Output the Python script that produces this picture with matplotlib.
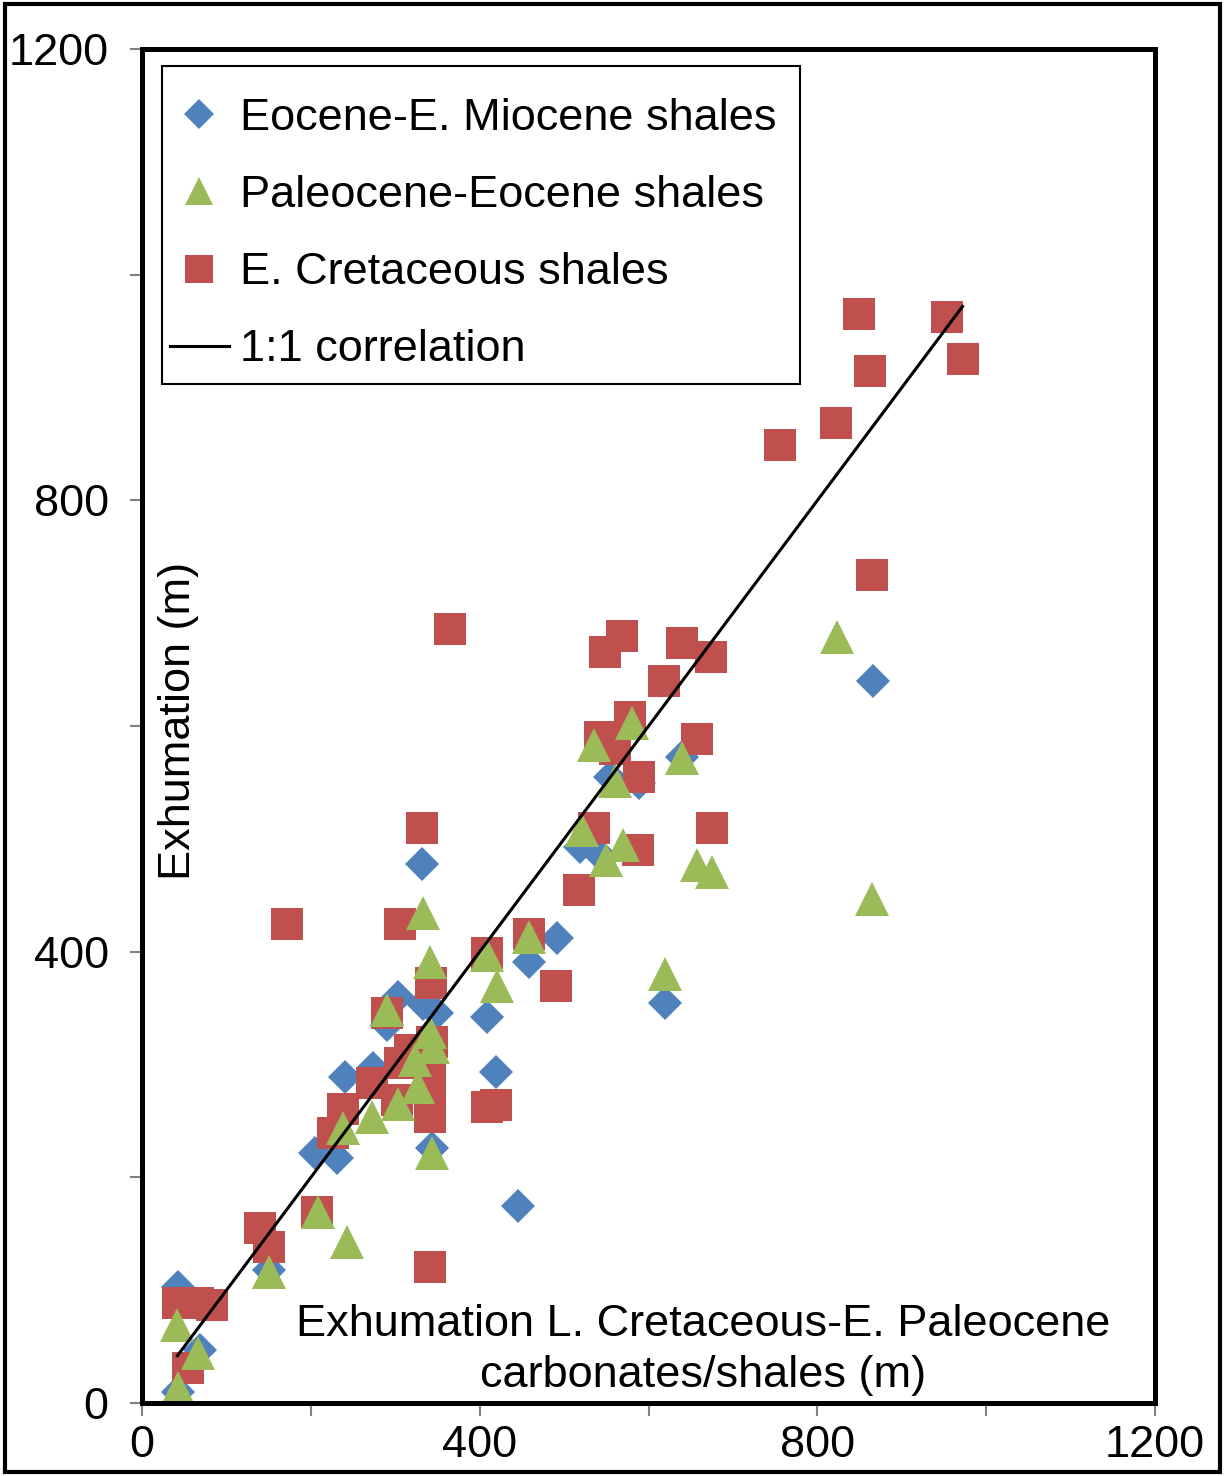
import numpy as np
import matplotlib.pyplot as plt
from matplotlib.patches import Rectangle

plt.rcParams['font.family'] = ['Liberation Sans', 'DejaVu Sans']

# -------------------------------
# Data (exhumation, m)
# -------------------------------
eoc_x = [43, 69, 43, 150, 205, 231, 240, 274, 290, 303, 333, 349, 332, 344,
         409, 419, 445, 458, 492, 519, 543, 554, 589, 640, 620, 866]
eoc_y = [103, 47, 10, 118, 222, 217, 289, 297, 335, 360, 354, 346, 478, 226,
         342, 293, 175, 391, 412, 493, 486, 555, 550, 573, 355, 640]

pal_x = [43, 41, 66, 150, 209, 243, 238, 272, 303, 327, 323, 345, 341, 344,
         290, 341, 333, 409, 420, 458, 620, 521, 550, 570, 535, 580, 560, 640,
         657, 675, 823, 865]
pal_y = [13, 69, 44, 116, 169, 143, 244, 254, 265, 280, 304, 316, 329, 222,
         348, 391, 434, 397, 370, 413, 380, 508, 481, 495, 583, 603, 551, 572,
         477, 471, 679, 447]

cre_x = [43, 66, 83, 55, 140, 150, 207, 341, 226, 238, 272, 306, 302, 341,
         341, 317, 341, 343, 290, 342, 172, 306, 332, 365, 409, 458, 490, 409,
         419, 518, 535, 588, 589, 543, 560, 578, 548, 569, 618, 640, 674, 657,
         675, 756, 822, 849, 954, 973, 862, 865]
cre_y = [89, 89, 87, 31, 155, 138, 169, 121, 239, 261, 284, 301, 269, 275,
         254, 313, 298, 320, 346, 372, 425, 425, 510, 686, 399, 416, 370, 262,
         264, 455, 510, 490, 555, 590, 580, 608, 666, 680, 640, 674, 661, 589,
         510, 849, 869, 965, 963, 925, 915, 734]

line_x = [42, 972]
line_y = [42, 972]

FS = 32.5

# -------------------------------
# Figure
# -------------------------------
fig = plt.figure(figsize=(12.25, 14.76), dpi=100)
ax = fig.add_axes([0.1159, 0.0494, 0.827, 0.9173])

ax.plot(eoc_x, eoc_y, linestyle='none', marker='D', markersize=17.5,
        color='#4F81BD', markeredgewidth=0, label='Eocene-E. Miocene shales',
        zorder=3)
ax.plot(cre_x, cre_y, linestyle='none', marker='s', markersize=23.5,
        color='#C0504D', markeredgewidth=0, label='E. Cretaceous shales',
        zorder=4)
ax.plot(pal_x, pal_y, linestyle='none', marker='^', markersize=24,
        color='#9BBB59', markeredgewidth=0, label='Paleocene-Eocene shales',
        zorder=5)
ax.plot(line_x, line_y, color='black', linewidth=2.2, label='1:1 correlation',
        zorder=6)

ax.set_xlim(0, 1200)
ax.set_ylim(0, 1200)
ax.set_xticks([0, 400, 800, 1200])
ax.set_yticks([0, 400, 800, 1200])
ax.set_xticks([200, 600, 1000], minor=True)
ax.set_yticks([200, 600, 1000], minor=True)
ax.tick_params(which='both', direction='out', length=9, width=1.5,
               color='#808080', labelsize=FS)
ax.tick_params(axis='x', pad=7)
ax.tick_params(axis='y', pad=15)

for sp in ax.spines.values():
    sp.set_linewidth(3.6)
    sp.set_zorder(7)

# axis titles sit inside the frame
ax.set_ylabel('Exhumation (m)', fontsize=FS, va='center', ha='center')
ax.yaxis.set_label_coords(0.036, 0.504)
ax.set_xlabel('Exhumation L. Cretaceous-E. Paleocene\ncarbonates/shales (m)',
              fontsize=FS, va='center', ha='center', linespacing=1.32)
ax.xaxis.set_label_coords(0.554, 0.039)

# legend entries without frame, box drawn separately
handles, labels = ax.get_legend_handles_labels()
order = [0, 2, 1, 3]
leg = ax.legend([handles[i] for i in order], [labels[i] for i in order],
                loc='upper left', bbox_to_anchor=(0.0, 0.9845),
                borderaxespad=0, fontsize=FS, numpoints=1, frameon=False,
                labelspacing=0.8, handlelength=1.3, handletextpad=0.25,
                borderpad=0.62, markerscale=0.85)
leg.set_zorder(8)
ax.add_patch(Rectangle((0.0197, 0.7526), 0.6298, 0.2349, transform=ax.transAxes,
                       facecolor='white', edgecolor='black', linewidth=1.5,
                       zorder=7.5))

# outer border around the whole figure
fig.patches.append(Rectangle((0.004, 0.003), 0.992, 0.994, transform=fig.transFigure,
                             fill=False, edgecolor='black', linewidth=3))

plt.savefig('out.png', dpi=100)
plt.close()
